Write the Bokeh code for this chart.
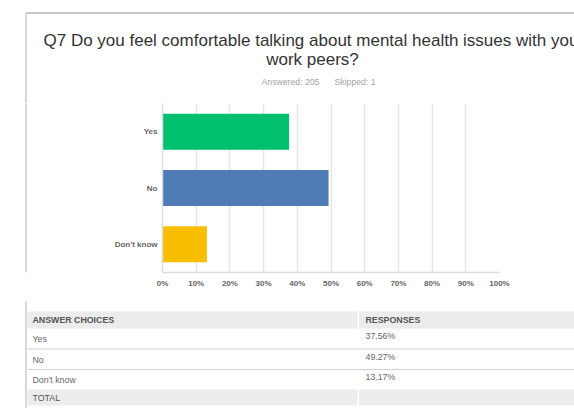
from bokeh.plotting import figure
from bokeh.layouts import column, row
from bokeh.models import Range1d, FactorRange, FixedTicker, PrintfTickFormatter
from bokeh.core.properties import value
from bokeh.embed import file_html
from bokeh.resources import INLINE

# ---------------- data ----------------
categories = ["Yes", "No", "Don't know"]
responses = [37.56, 49.27, 13.17]
bar_colors = ["#00BF6F", "#507CB6", "#F9BE00"]
ticks = [0, 10, 20, 30, 40, 50, 60, 70, 80, 90, 100]
title_lines = ["Q7 Do you feel comfortable talking about mental health issues with your",
               "work peers?"]
answered = 205
skipped = 1
table_header = ["ANSWER CHOICES", "RESPONSES"]
total_label = "TOTAL"

FONT = "Liberation Sans"
BORDER_TOP = "#8f8f8f"
BORDER_LEFT = "#cccccc"

# picture geometry (pixels of the 574x408 picture)
X0, X1 = 0, 574
Y0 = 0
BOX_X = 25.5        # left border of the card
BOX_Y = 12.5        # top border of the card
HEAD_Y1 = 103       # bottom of header figure / top of chart frame
MID_Y1 = 300        # bottom of chart figure
TAB_Y1 = 408        # bottom of table figure
STRIP_X1 = 30       # right edge of the left strip
FRAME_L, FRAME_R, FRAME_B = 162, 499, 272


def page_fig(x0, x1, y0, y1):
    f = figure(width=x1 - x0, height=y1 - y0, output_backend="svg", toolbar_location=None,
               x_range=Range1d(x0, x1), y_range=Range1d(y1, y0),
               min_border=0, outline_line_color=None)
    f.axis.visible = False
    f.grid.visible = False
    return f


# ---------------- header ----------------
head = page_fig(X0, X1, Y0, HEAD_Y1)
head.segment(x0=[BOX_X, BOX_X], y0=[BOX_Y, BOX_Y], x1=[X1, BOX_X], y1=[BOX_Y, HEAD_Y1],
             line_color=[BORDER_TOP, BORDER_LEFT], line_width=[1, 1.5])
head.text(x=[43], y=[40], text=[title_lines[0]], text_font=value(FONT),
          text_font_size="17px", text_color="#333333", text_baseline="alphabetic")
head.text(x=[312], y=[59], text=[title_lines[1]], text_font=value(FONT),
          text_font_size="17px", text_color="#333333", text_align="center",
          text_baseline="alphabetic")
head.text(x=[261, 334], y=[81, 81], text=[f"Answered: {answered}", f"Skipped: {skipped}"],
          text_font=value(FONT), text_font_size="8.7px", text_color="#a3a3a3",
          text_baseline="middle")

# ---------------- left strip ----------------
strip = page_fig(X0, STRIP_X1, HEAD_Y1, MID_Y1)
strip.segment(x0=[BOX_X], y0=[HEAD_Y1], x1=[BOX_X], y1=[MID_Y1],
              line_color=BORDER_LEFT, line_width=1.5)

# ---------------- chart ----------------
p = figure(width=X1 - STRIP_X1, height=MID_Y1 - HEAD_Y1, output_backend="svg",
           toolbar_location=None,
           x_range=Range1d(0, 100),
           y_range=FactorRange(factors=categories[::-1], range_padding=0),
           min_border_left=FRAME_L - STRIP_X1, min_border_right=X1 - FRAME_R,
           min_border_top=0, min_border_bottom=MID_Y1 - FRAME_B)
p.outline_line_color = None
p.hbar(y=categories, left=0, right=responses, height=0.64, color=bar_colors, line_color=None)

p.xaxis.ticker = FixedTicker(ticks=ticks)
p.xaxis.formatter = PrintfTickFormatter(format="%d%%")
for ax in (p.xaxis[0], p.yaxis[0]):
    ax.axis_line_color = "#dcdcdc"
    ax.axis_line_width = 1.5
    ax.major_tick_line_color = None
    ax.minor_tick_line_color = None
    ax.major_tick_out = 0
    ax.major_tick_in = 0
    ax.minor_tick_out = 0
    ax.major_label_text_font = FONT
    ax.major_label_text_font_style = "bold"
    ax.major_label_text_font_size = "8px"
    ax.major_label_text_color = "#666666"
p.xaxis.major_label_standoff = 6
p.yaxis.major_label_standoff = 5
p.xgrid.ticker = FixedTicker(ticks=ticks)
p.xgrid.grid_line_color = "#e6e6e6"
p.xgrid.grid_line_width = 1.5
p.ygrid.grid_line_color = None

# ---------------- table ----------------
tab = page_fig(X0, X1, MID_Y1, TAB_Y1)
COL_X = 357.5
HDR = (311, 328)
ROW_EDGES = [328, 348.5, 369, 389]
TOTAL_ROW = (389, 405)
tab.segment(x0=[BOX_X], y0=[MID_Y1], x1=[BOX_X], y1=[TAB_Y1],
            line_color=BORDER_LEFT, line_width=1.5)
# grey bands (header and total), split by the column divider
band_l = [27, COL_X + 1, 27, COL_X + 1]
band_r = [COL_X - 0.5, X1, COL_X - 0.5, X1]
band_t = [HDR[0], HDR[0], TOTAL_ROW[0], TOTAL_ROW[0]]
band_b = [HDR[1], HDR[1], TOTAL_ROW[1], TOTAL_ROW[1]]
tab.quad(left=band_l, right=band_r, top=band_t, bottom=band_b, fill_color="#ececec",
         line_color=None)
tab.segment(x0=[27, 27], y0=ROW_EDGES[1:3], x1=[X1, X1], y1=ROW_EDGES[1:3],
            line_color="#d2d2d2", line_width=1)
tab.text(x=[32, 365], y=[(HDR[0] + HDR[1]) / 2] * 2, text=table_header,
         text_font=value(FONT), text_font_style="bold", text_font_size="8.8px",
         text_color="#555555", text_baseline="middle")
row_mid = [(ROW_EDGES[i] + ROW_EDGES[i + 1]) / 2 + 0.5 for i in range(3)]
tab.text(x=[32] * 3, y=row_mid, text=categories, text_font=value(FONT),
         text_font_size="8.8px", text_color="#666666", text_baseline="middle")
tab.text(x=[365] * 3, y=[ROW_EDGES[i] + 7.5 for i in range(3)],
         text=[f"{v:.2f}%" for v in responses], text_font=value(FONT),
         text_font_size="8.8px", text_color="#666666", text_baseline="middle")
tab.text(x=[32], y=[(TOTAL_ROW[0] + TOTAL_ROW[1]) / 2], text=[total_label],
         text_font=value(FONT), text_font_size="8.8px", text_color="#555555",
         text_baseline="middle")

layout = column(head, row(strip, p, spacing=0), tab, spacing=0)
open("out.html", "w").write(file_html(layout, INLINE))
